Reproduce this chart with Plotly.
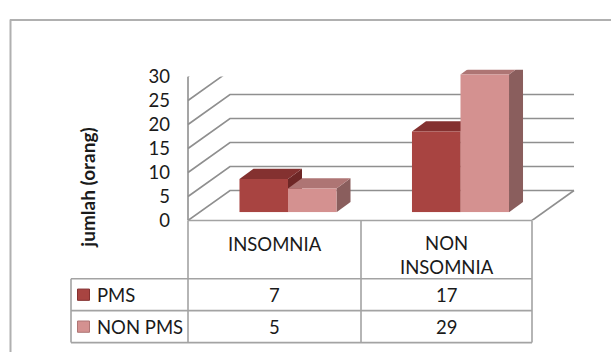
import plotly.graph_objects as go

# ---- data ----
categories = ["INSOMNIA", "NON INSOMNIA"]
series_names = ["PMS", "NON PMS"]
pms = [7, 17]
non_pms = [5, 29]
y_ticks = [0, 5, 10, 15, 20, 25, 30]
y_title = "jumlah (orang)"

# ---- layout constants (pixels) ----
W, H = 611, 362
FONT = "Lato"
FONT_SIZE = 18.5
TXT = "#1a1a1a"
GRID = "#8f8f8f"
TABLE = "#a3a3a3"

FRONT_X0, FRONT_X1 = 188, 532        # front edge of the floor / table
FRONT_Y0, FRONT_SCALE = 222, 5.11    # front plane: value 0 and px per unit
BACK_DX, BACK_DY = 42, 30            # depth of the floor / back wall
BAR_X0, BAR_X1 = 201.75, 546.75      # category band of the bar plane
BAR_Y0, BAR_SCALE = 213.3, 5.06      # bar plane: value 0 and px per unit
BAR_DX, BAR_DY = 14, 11              # depth of each column
BARGAP = 0.4375

ROW_Y = [222, 284, 318, 352]
COL_X = [71, 188, 361, 532]

front_colors = ["#a84441", "#d49190"]
top_colors = ["#843130", "#ae7574"]
side_colors = ["#6e2726", "#8a5e5d"]


def pxx(p):
    return p / W


def pxy(p):
    return 1 - p / H


ymax = max(y_ticks)
series = [pms, non_pms]

fig = go.Figure()

for k, (name, vals) in enumerate(zip(series_names, series)):
    fig.add_trace(go.Bar(
        x=categories, y=vals, name=name,
        marker=dict(color=front_colors[k], line=dict(width=0)),
        xaxis="x2", yaxis="y2", showlegend=False, hoverinfo="x+y+name",
    ))

shapes = []

# back wall gridlines with their diagonal returns to the front edge
back_len = FRONT_X1 - FRONT_X0 + BACK_DX
for v in y_ticks:
    shapes.append(dict(
        type="path", layer="below",
        xref="paper", xsizemode="pixel", xanchor=pxx(FRONT_X0),
        yref="y", ysizemode="pixel", yanchor=v,
        path=f"M0,0 L{BACK_DX},{BACK_DY} L{back_len},{BACK_DY}",
        line=dict(color=GRID, width=1.6),
    ))
# floor right edge
shapes.append(dict(
    type="path", layer="below",
    xref="paper", xsizemode="pixel", xanchor=pxx(FRONT_X1),
    yref="y", ysizemode="pixel", yanchor=0,
    path=f"M0,0 L{BACK_DX},{BACK_DY}",
    line=dict(color=GRID, width=1.6),
))
# front vertical edge of the side wall
shapes.append(dict(type="line", layer="below", xref="paper", yref="y",
                   x0=pxx(FRONT_X0), x1=pxx(FRONT_X0), y0=0, y1=ymax,
                   line=dict(color=GRID, width=1.6)))

# 3-D faces of the columns (side, then top, series by series)
px_per_cat = (BAR_X1 - BAR_X0) / len(categories)
ddx = BAR_DX / px_per_cat
ddy = BAR_DY / BAR_SCALE
bw = (1 - BARGAP) / len(series)
for i in range(len(categories)):
    for k, vals in enumerate(series):
        v = vals[i]
        xa = i - (1 - BARGAP) / 2 + k * bw
        xb = xa + bw
        shapes.append(dict(
            type="path", layer="below", xref="x2", yref="y2",
            path=f"M{xb},0 L{xb + ddx},{ddy} L{xb + ddx},{v + ddy} L{xb},{v} Z",
            fillcolor=side_colors[k], line=dict(width=0),
        ))
        shapes.append(dict(
            type="path", layer="below", xref="x2", yref="y2",
            path=f"M{xa},{v} L{xb},{v} L{xb + ddx},{v + ddy} L{xa + ddx},{v + ddy} Z",
            fillcolor=top_colors[k], line=dict(width=0),
        ))


# data table grid
def hline(y, x0, x1):
    shapes.append(dict(type="line", xref="paper", yref="paper",
                       x0=pxx(x0), x1=pxx(x1), y0=pxy(y), y1=pxy(y),
                       line=dict(color=TABLE, width=1.6)))


def vline(x, y0, y1):
    shapes.append(dict(type="line", xref="paper", yref="paper",
                       x0=pxx(x), x1=pxx(x), y0=pxy(y0), y1=pxy(y1),
                       line=dict(color=TABLE, width=1.6)))


hline(ROW_Y[0], COL_X[1], COL_X[3])
for y in ROW_Y[1:]:
    hline(y, COL_X[0], COL_X[3])
vline(COL_X[0], ROW_Y[1], ROW_Y[3])
for x in COL_X[1:]:
    vline(x, ROW_Y[0], ROW_Y[3])

# outer chart frame
shapes.append(dict(type="line", xref="paper", yref="paper",
                   x0=pxx(10.5), x1=pxx(10.5), y0=pxy(8), y1=0,
                   line=dict(color="#b0b0b0", width=2)))
shapes.append(dict(type="line", xref="paper", yref="paper",
                   x0=pxx(10), x1=1, y0=pxy(8.5), y1=pxy(8.5),
                   line=dict(color="#b0b0b0", width=2)))

annotations = []
font = dict(family=FONT, size=FONT_SIZE, color=TXT)

# column headers
for i, cat in enumerate(categories):
    cx = (COL_X[i + 1] + COL_X[i + 2]) / 2
    words = cat.split(" ")
    label = "<br>".join(words)
    cy = 247 + (len(words) - 1) * 12
    annotations.append(dict(x=pxx(cx), y=pxy(cy), xref="paper", yref="paper",
                            text=label, showarrow=False, font=font,
                            xanchor="center", yanchor="middle"))

# rows: legend key, series name, values
for k, (name, vals) in enumerate(zip(series_names, series)):
    cy = (ROW_Y[k + 1] + ROW_Y[k + 2]) / 2
    shapes.append(dict(type="rect", xref="paper", yref="paper",
                       x0=pxx(77.5), x1=pxx(89.5), y0=pxy(cy - 6), y1=pxy(cy + 6),
                       fillcolor=front_colors[k],
                       line=dict(color=top_colors[k], width=1)))
    annotations.append(dict(x=pxx(95), y=pxy(cy), xref="paper", yref="paper",
                            text=name, showarrow=False, font=font,
                            xanchor="left", yanchor="middle"))
    for i, v in enumerate(vals):
        cx = (COL_X[i + 1] + COL_X[i + 2]) / 2
        annotations.append(dict(x=pxx(cx), y=pxy(cy), xref="paper", yref="paper",
                                text=str(v), showarrow=False, font=font,
                                xanchor="center", yanchor="middle"))

# axis title
annotations.append(dict(x=pxx(88), y=pxy(187), xref="paper", yref="paper",
                        text=f"<b>{y_title}</b>", showarrow=False, textangle=-90,
                        font=dict(family=FONT, size=19, color=TXT),
                        xanchor="center", yanchor="middle"))

fig.update_layout(
    width=W, height=H,
    margin=dict(l=0, r=0, t=0, b=0),
    paper_bgcolor="white", plot_bgcolor="rgba(0,0,0,0)",
    barmode="group", bargap=BARGAP, bargroupgap=0,
    showlegend=False,
    xaxis=dict(domain=[pxx(FRONT_X0), pxx(FRONT_X1)], range=[0, 1],
               visible=False, fixedrange=True),
    yaxis=dict(domain=[pxy(FRONT_Y0), pxy(FRONT_Y0 - ymax * FRONT_SCALE)],
               range=[0, ymax], tickvals=y_ticks, ticks="",
               showgrid=False, zeroline=False, showline=False,
               ticklabelstandoff=17,
               tickfont=dict(family=FONT, size=FONT_SIZE, color=TXT),
               fixedrange=True),
    xaxis2=dict(domain=[pxx(BAR_X0), pxx(BAR_X1)], range=[-0.5, 1.5],
                anchor="y2", visible=False, fixedrange=True),
    yaxis2=dict(domain=[pxy(BAR_Y0), pxy(BAR_Y0 - ymax * BAR_SCALE)],
                range=[0, ymax], anchor="x2", visible=False, fixedrange=True),
    shapes=shapes,
    annotations=annotations,
)

fig.write_html("out.html")
